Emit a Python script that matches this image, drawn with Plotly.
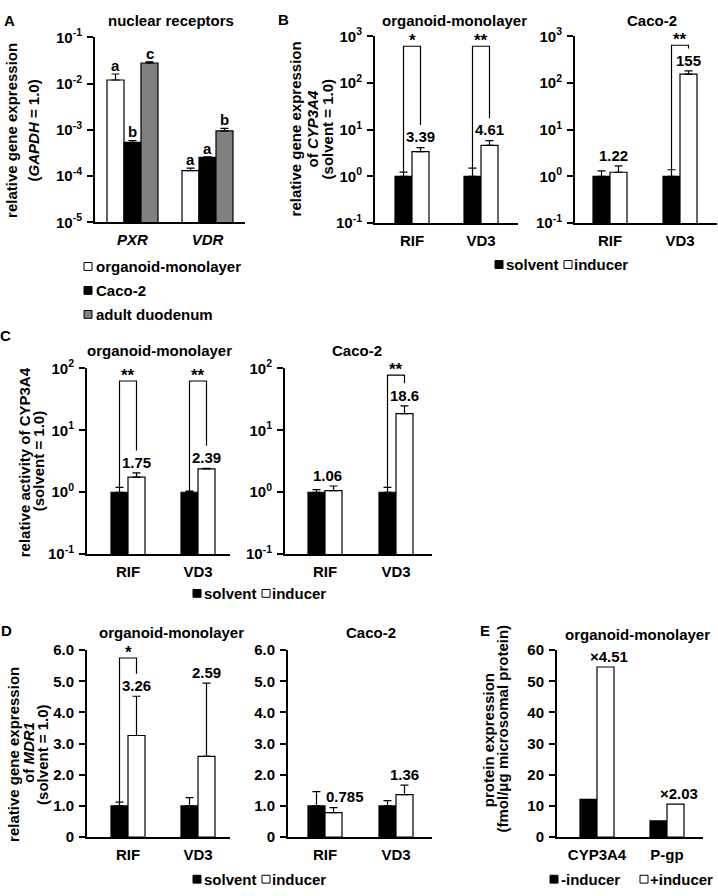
import math
import plotly.graph_objects as go

W, H = 718, 896
FONT = "Arial, 'Liberation Sans', Helvetica, sans-serif"
FS = 15

# ---------------- data ----------------
A_genes = ["PXR", "VDR"]
A_group_names = ["organoid-monolayer", "Caco-2", "adult duodenum"]
A_organoid = [1.2e-2, 1.32e-4]
A_organoid_err = [4.2e-3, 1.8e-5]
A_caco2 = [5.4e-4, 2.55e-4]
A_caco2_err = [5.0e-5, 6.0e-6]
A_duodenum = [2.8e-2, 9.5e-4]
A_duodenum_err = [1.6e-3, 1.3e-4]
A_letters_organoid = ["a", "a"]
A_letters_caco2 = ["b", "a"]
A_letters_duodenum = ["c", "b"]
A_log_ticks = [-5, -4, -3, -2, -1]

inducer_names = ["RIF", "VD3"]

B_org_solvent = [1.0, 1.0]
B_org_solvent_err = [0.23, 0.5]
B_org_inducer = [3.39, 4.61]
B_org_inducer_err = [0.75, 1.2]
B_org_sig = ["*", "**"]
B_caco_solvent = [1.0, 1.0]
B_caco_solvent_err = [0.31, 0.38]
B_caco_inducer = [1.22, 155]
B_caco_inducer_err = [0.45, 27]
B_caco_sig = ["", "**"]
B_log_ticks = [-1, 0, 1, 2, 3]

C_org_solvent = [1.0, 1.0]
C_org_solvent_err = [0.2, 0.04]
C_org_inducer = [1.75, 2.39]
C_org_inducer_err = [0.3, 0.05]
C_org_sig = ["**", "**"]
C_caco_solvent = [1.0, 1.0]
C_caco_solvent_err = [0.1, 0.2]
C_caco_inducer = [1.06, 18.6]
C_caco_inducer_err = [0.2, 6.2]
C_caco_sig = ["", "**"]
C_log_ticks = [-1, 0, 1, 2]

D_org_solvent = [1.0, 1.0]
D_org_solvent_err = [0.12, 0.27]
D_org_inducer = [3.26, 2.59]
D_org_inducer_err = [1.26, 2.35]
D_org_sig = ["*", ""]
D_caco_solvent = [1.0, 1.0]
D_caco_solvent_err = [0.46, 0.17]
D_caco_inducer = [0.785, 1.36]
D_caco_inducer_err = [0.16, 0.31]
D_caco_sig = ["", ""]
D_ticks = [0, 1, 2, 3, 4, 5, 6]
D_ticktext = ["0", "1.0", "2.0", "3.0", "4.0", "5.0", "6.0"]

E_proteins = ["CYP3A4", "P-gp"]
E_minus_inducer = [12.1, 5.2]
E_plus_inducer = [54.6, 10.6]
E_fold = ["4.51", "2.03"]
E_ticks = [0, 10, 20, 30, 40, 50, 60]

# ---------------- layout geometry (pixels) ----------------
AXES = {
    "A":  dict(n=1, xp=(95, 245),  yp=(27, 216),   c=(132.5, 207.5), log=True,  yr=(-5, -1)),
    "B1": dict(n=2, xp=(375, 518), yp=(26, 216.5), c=(412, 481),     log=True,  yr=(-1, 3)),
    "B2": dict(n=3, xp=(575, 717), yp=(26, 216.5), c=(610, 680),     log=True,  yr=(-1, 3)),
    "C1": dict(n=4, xp=(87, 230),  yp=(365, 555),  c=(128, 198),     log=True,  yr=(-1, 2)),
    "C2": dict(n=5, xp=(285, 432), yp=(365, 555),  c=(325, 396),     log=True,  yr=(-1, 2)),
    "D1": dict(n=6, xp=(87, 230),  yp=(653, 844),  c=(128, 198),     log=False, yr=(0, 6)),
    "D2": dict(n=7, xp=(288, 432), yp=(653, 844),  c=(325, 396),     log=False, yr=(0, 6)),
    "E":  dict(n=8, xp=(557, 703), yp=(653, 844),  c=(597, 667),     log=False, yr=(0, 60)),
}
BAR_PX = 17
for ax in AXES.values():
    unit = ax["c"][1] - ax["c"][0]
    ax["xr"] = ((ax["xp"][0] - ax["c"][0]) / unit, (ax["xp"][1] - ax["c"][0]) / unit)
    ax["bw"] = BAR_PX / unit
    n = ax["n"]
    ax["xa"] = "x" if n == 1 else f"x{n}"
    ax["ya"] = "y" if n == 1 else f"y{n}"


def y_to_px(ax, v):
    t = math.log10(v) if ax["log"] else v
    r0, r1 = ax["yr"]
    top, bot = ax["yp"]
    return bot - (t - r0) / (r1 - r0) * (bot - top)


def px_to_y(ax, p):
    r0, r1 = ax["yr"]
    top, bot = ax["yp"]
    t = r0 + (bot - p) / (bot - top) * (r1 - r0)
    return 10 ** t if ax["log"] else t


def x_to_px(ax, xv):
    x0, x1 = ax["xp"]
    r0, r1 = ax["xr"]
    return x0 + (xv - r0) / (r1 - r0) * (x1 - x0)


fig = go.Figure()


def text(t, xpx, ypx, size=FS, xanchor="center", yanchor="middle", angle=0):
    fig.add_annotation(text=t, x=xpx / W, y=1 - ypx / H, xref="paper", yref="paper",
                       showarrow=False, xanchor=xanchor, yanchor=yanchor, textangle=angle,
                       font=dict(family=FONT, size=size, color="black", weight="bold"))


def square(xpx, ypx, color, size=8):
    fig.add_shape(type="rect", xref="paper", yref="paper",
                  x0=xpx / W, x1=(xpx + size) / W,
                  y0=1 - (ypx + size / 2) / H, y1=1 - (ypx - size / 2) / H,
                  fillcolor=color, line=dict(color="black", width=1))


def err_dict(errs):
    return dict(type="data", array=errs, arrayminus=[0] * len(errs), symmetric=False,
                color="black", thickness=1.2, width=4)


def bar(ax, vals, errs, offset, color):
    fig.add_bar(x=list(range(len(vals))), y=vals, width=ax["bw"], offset=offset,
                marker=dict(color=color, line=dict(color="black", width=1.2)),
                error_y=err_dict(errs) if errs is not None else None,
                xaxis=ax["xa"], yaxis=ax["ya"], hoverinfo="skip")


def pair_panel(key, solv, solv_err, ind, ind_err, sig, labels, label_dx, bracket_off, prefix=""):
    ax = AXES[key]
    bw = ax["bw"]
    bar(ax, solv, solv_err, -bw, "black")
    bar(ax, ind, ind_err, 0, "white")
    for i in range(len(solv)):
        top_i = ind[i] + (ind_err[i] if ind_err is not None else 0)
        ypx = y_to_px(ax, top_i)
        xw = x_to_px(ax, i + bw / 2)
        text(prefix + labels[i], xw + label_dx[i], ypx - 11)
        if sig[i]:
            ytop_px = ax["yp"][0] + bracket_off
            y_left = solv[i] + solv_err[i]
            y_top = px_to_y(ax, ytop_px)
            y_right = px_to_y(ax, ypx - 23)
            fig.add_scatter(x=[i - bw / 2, i - bw / 2, i + bw / 2, i + bw / 2],
                            y=[y_left, y_top, y_top, y_right], mode="lines",
                            line=dict(color="black", width=1.2), xaxis=ax["xa"], yaxis=ax["ya"],
                            hoverinfo="skip")
            text(sig[i], x_to_px(ax, i), ytop_px - 6, size=17)


def fmt(v):
    return f"{v:g}"


# ---------------- Panel A ----------------
axA = AXES["A"]
bwA = axA["bw"]
A_series = [(A_organoid, A_organoid_err, "white", A_letters_organoid),
            (A_caco2, A_caco2_err, "black", A_letters_caco2),
            (A_duodenum, A_duodenum_err, "#808080", A_letters_duodenum)]
for k, (vals, errs, col, letters) in enumerate(A_series):
    off = (k - 1.5) * bwA
    bar(axA, vals, errs, off, col)
    for i in range(len(vals)):
        ypx = y_to_px(axA, vals[i] + errs[i])
        text(letters[i], x_to_px(axA, i + off + bwA / 2), ypx - 9)

# ---------------- Panels B-E ----------------
pair_panel("B1", B_org_solvent, B_org_solvent_err, B_org_inducer, B_org_inducer_err, B_org_sig,
           [fmt(v) for v in B_org_inducer], [0, 0], 10)
pair_panel("B2", B_caco_solvent, B_caco_solvent_err, B_caco_inducer, B_caco_inducer_err, B_caco_sig,
           [fmt(v) for v in B_caco_inducer], [-5, 0], 9)
pair_panel("C1", C_org_solvent, C_org_solvent_err, C_org_inducer, C_org_inducer_err, C_org_sig,
           [fmt(v) for v in C_org_inducer], [0, 0], 13)
pair_panel("C2", C_caco_solvent, C_caco_solvent_err, C_caco_inducer, C_caco_inducer_err, C_caco_sig,
           [fmt(v) for v in C_caco_inducer], [-6, 0], 7)
pair_panel("D1", D_org_solvent, D_org_solvent_err, D_org_inducer, D_org_inducer_err, D_org_sig,
           [fmt(v) for v in D_org_inducer], [0, 0], 8)
pair_panel("D2", D_caco_solvent, D_caco_solvent_err, D_caco_inducer, D_caco_inducer_err, D_caco_sig,
           [fmt(v) for v in D_caco_inducer], [11, 0], 8)
pair_panel("E", E_minus_inducer, None, E_plus_inducer, None, ["", ""],
           E_fold, [3, 3], 0, prefix="\u00d7")

# ---------------- axes ----------------
tickfont = dict(family=FONT, size=FS, color="black", weight="bold")
xlabels = {
    "A": [f"<i>{g}</i>" for g in A_genes],
    "B1": inducer_names, "B2": inducer_names, "C1": inducer_names, "C2": inducer_names,
    "D1": inducer_names, "D2": inducer_names, "E": E_proteins,
}
ylog_ticks = {"A": A_log_ticks, "B1": B_log_ticks, "B2": B_log_ticks,
              "C1": C_log_ticks, "C2": C_log_ticks}
layout_axes = {}
for key, ax in AXES.items():
    n = ax["n"]
    xname = "xaxis" if n == 1 else f"xaxis{n}"
    yname = "yaxis" if n == 1 else f"yaxis{n}"
    layout_axes[xname] = dict(
        domain=[ax["xp"][0] / W, ax["xp"][1] / W], range=list(ax["xr"]), anchor=ax["ya"],
        showline=True, linewidth=2, linecolor="black", ticks="", showgrid=False, zeroline=False,
        tickmode="array", tickvals=list(range(len(xlabels[key]))), ticktext=xlabels[key],
        tickfont=tickfont, ticklabelstandoff=3, fixedrange=True)
    ydict = dict(
        domain=[1 - ax["yp"][1] / H, 1 - ax["yp"][0] / H], anchor=ax["xa"],
        showline=True, linewidth=2, linecolor="black", ticks="outside", ticklen=6, tickwidth=1.5,
        tickcolor="black", showgrid=False, zeroline=False, tickfont=tickfont, fixedrange=True,
        ticklabelstandoff=2)
    if ax["log"]:
        lt = ylog_ticks[key]
        ydict.update(type="log", range=list(ax["yr"]), tickmode="array",
                     tickvals=[10 ** t for t in lt],
                     ticktext=[f"10<sup>{t}</sup>" for t in lt])
    elif key.startswith("D"):
        ydict.update(type="linear", range=list(ax["yr"]), tickmode="array",
                     tickvals=D_ticks, ticktext=D_ticktext)
    else:
        ydict.update(type="linear", range=list(ax["yr"]), tickmode="array",
                     tickvals=E_ticks, ticktext=[str(t) for t in E_ticks])
    layout_axes[yname] = ydict

fig.update_layout(**layout_axes)

# ---------------- titles, labels, legends ----------------
panel_letters = [("A", 9, 10), ("B", 283, 9), ("C", 5, 332), ("D", 6, 633), ("E", 485, 633)]
for t, x, y in panel_letters:
    text(t, x, y)

panel_titles = [("nuclear receptors", 171, 10), ("organoid-monolayer", 454, 10), ("Caco-2", 652, 10),
                ("organoid-monolayer", 159, 347), ("Caco-2", 357, 347),
                ("organoid-monolayer", 171, 635), ("Caco-2", 371, 635),
                ("organoid-monolayer", 637, 637)]
for t, x, y in panel_titles:
    text(t, x, y)

# y-axis titles, one annotation per line: (text, x centre, y centre)
y_titles = [
    ("relative gene expression", 11.5, 122), ("(<i>GAPDH</i> = 1.0)", 33, 122),
    ("relative gene expression", 295, 121), ("of <i>CYP3A4</i>", 312, 121), ("(solvent = 1.0)", 327, 121),
    ("relative activity of CYP3A4", 24, 461), ("(solvent = 1.0)", 38, 460),
    ("relative gene expression", 14, 760), ("of <i>MDR1</i>", 29, 758), ("(solvent = 1.0)", 43, 760),
    ("protein expression", 488, 745), ("(fmol/\u03bcg microsomal protein)", 502, 733),
]
for t, x, y in y_titles:
    text(t, x, y, angle=-90)

# legend A
for (name, col), y in zip(zip(A_group_names, ["white", "black", "#808080"]), [261, 285.5, 310]):
    square(84, y, col)
    text(name, 94, y, xanchor="left")

# legends B, C, D (solvent / inducer) and E
for y, x0 in [(259, 495), (595, 193), (887, 193)]:
    square(x0, y, "black")
    text("solvent", x0 + 9, y, xanchor="left")
    square(x0 + 69, y, "white")
    text("inducer", x0 + 77, y, xanchor="left")
square(550, 887, "black")
text("-inducer", 559, 887, xanchor="left")
square(640, 887, "white")
text("+inducer", 648, 887, xanchor="left")

fig.update_layout(width=W, height=H, margin=dict(l=0, r=0, t=0, b=0), showlegend=False,
                  barmode="overlay", paper_bgcolor="white", plot_bgcolor="white",
                  font=dict(family=FONT, size=FS, color="black"))

fig.write_html("out.html", config={"displayModeBar": False},
               post_script="document.body.style.margin='0px';")
